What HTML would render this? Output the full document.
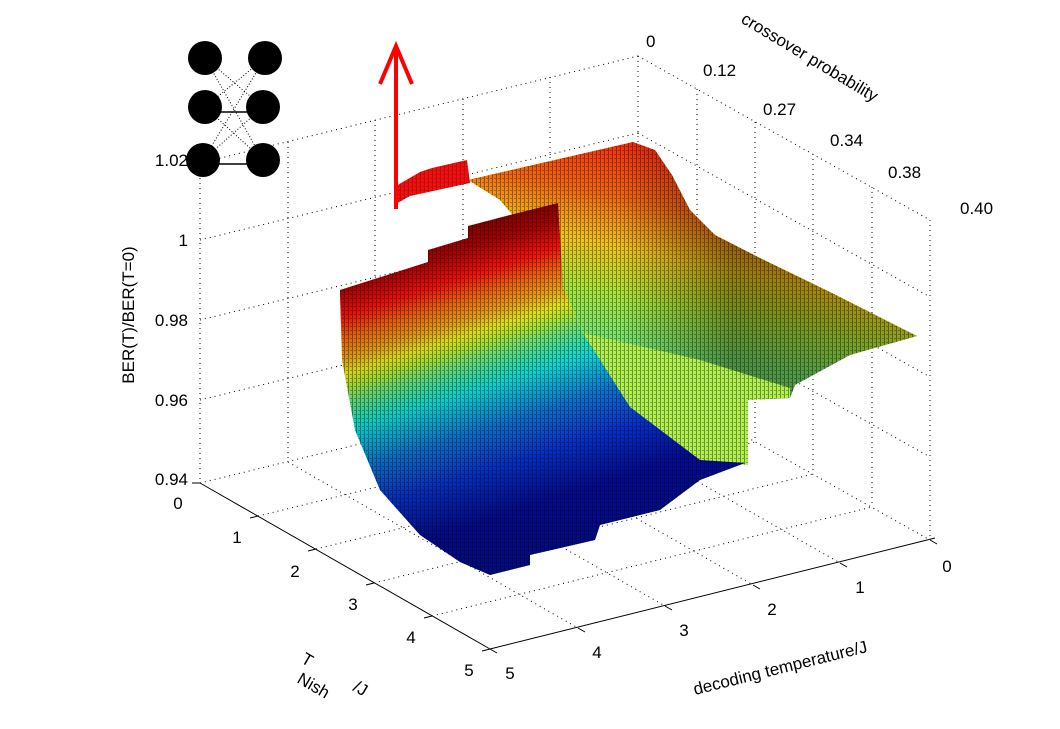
<!DOCTYPE html>
<html><head><meta charset="utf-8"><style>
html,body{margin:0;padding:0;background:#fff}
svg{display:block}
text{font-family:"Liberation Sans",sans-serif;font-size:17px;fill:#000}
</style></head><body>
<svg width="1060" height="729" viewBox="0 0 1060 729" xmlns="http://www.w3.org/2000/svg">
<defs>
<linearGradient id="front" gradientUnits="userSpaceOnUse" x1="330" y1="240" x2="426" y2="540">
<stop offset="0.08" stop-color="#800000"/>
<stop offset="0.16" stop-color="#b00000"/>
<stop offset="0.24" stop-color="#ff1000"/>
<stop offset="0.31" stop-color="#ff7000"/>
<stop offset="0.37" stop-color="#ffb000"/>
<stop offset="0.42" stop-color="#ffff00"/>
<stop offset="0.5" stop-color="#80ff80"/>
<stop offset="0.6" stop-color="#00ffff"/>
<stop offset="0.72" stop-color="#0090ff"/>
<stop offset="0.85" stop-color="#0040ff"/>
<stop offset="1" stop-color="#0010c0"/>
</linearGradient>
<linearGradient id="top" gradientUnits="userSpaceOnUse" x1="630" y1="140" x2="590" y2="330">
<stop offset="0" stop-color="#ff3000"/>
<stop offset="0.3" stop-color="#ff7000"/>
<stop offset="0.55" stop-color="#ffd000"/>
<stop offset="0.8" stop-color="#b0f040"/>
<stop offset="1" stop-color="#80f070"/>
</linearGradient>
<linearGradient id="topdark" gradientUnits="userSpaceOnUse" x1="620" y1="0" x2="900" y2="0">
<stop offset="0" stop-color="#000" stop-opacity="0.05"/>
<stop offset="0.4" stop-color="#000" stop-opacity="0.4"/>
<stop offset="1" stop-color="#000" stop-opacity="0.3"/>
</linearGradient>
<linearGradient id="dark" gradientUnits="userSpaceOnUse" x1="0" y1="250" x2="0" y2="580">
<stop offset="0" stop-color="#000" stop-opacity="0.05"/>
<stop offset="1" stop-color="#000" stop-opacity="0.35"/>
</linearGradient>
<pattern id="hatch" width="4" height="4" patternUnits="userSpaceOnUse">
<rect x="0" y="0" width="1" height="4" fill="#000" opacity="0.4"/>
<rect x="2" y="2" width="2" height="1" fill="#000" opacity="0.3"/>
</pattern>
</defs>

<g stroke="#000" stroke-width="1" stroke-dasharray="1 4" fill="none">
<line x1="200" y1="163" x2="638" y2="56"/>
<line x1="200" y1="240" x2="638" y2="133"/>
<line x1="200" y1="320" x2="638" y2="213"/>
<line x1="200" y1="400" x2="638" y2="293"/>
<line x1="200" y1="483" x2="638" y2="376"/>
<line x1="200" y1="163" x2="200" y2="483"/>
<line x1="288" y1="142" x2="288" y2="462"/>
<line x1="375" y1="120" x2="375" y2="440"/>
<line x1="463" y1="99" x2="463" y2="419"/>
<line x1="550" y1="77" x2="550" y2="397"/>
<line x1="638" y1="56" x2="638" y2="376"/>
<line x1="638" y1="56" x2="930" y2="220"/>
<line x1="638" y1="133" x2="930" y2="297"/>
<line x1="638" y1="213" x2="930" y2="377"/>
<line x1="638" y1="293" x2="930" y2="457"/>
<line x1="638" y1="376" x2="930" y2="540"/>
<line x1="697" y1="89" x2="697" y2="409"/>
<line x1="755" y1="122" x2="755" y2="442"/>
<line x1="813" y1="154" x2="813" y2="474"/>
<line x1="872" y1="187" x2="872" y2="507"/>
<line x1="930" y1="220" x2="930" y2="540"/>
<line x1="288" y1="462" x2="578" y2="628"/>
<line x1="375" y1="440" x2="665" y2="606"/>
<line x1="463" y1="419" x2="753" y2="585"/>
<line x1="550" y1="397" x2="840" y2="563"/>
<line x1="258" y1="516" x2="697" y2="409"/>
<line x1="316" y1="549" x2="755" y2="442"/>
<line x1="374" y1="583" x2="813" y2="474"/>
<line x1="432" y1="616" x2="872" y2="507"/>
</g>

<g>
<polygon points="468,180 633,142 655,150 672,175 690,210 715,235 760,258 830,292 917,336 850,355 795,385 790,398 745,400 600,385 583,333 563,287 556,216 515,218 500,200" fill="url(#top)"/>
<polygon points="468,180 633,142 655,150 672,175 690,210 715,235 760,258 830,292 917,336 850,355 795,385 790,398 745,400 600,385 583,333 563,287 556,216 515,218 500,200" fill="url(#topdark)"/>
<polygon points="468,180 633,142 655,150 672,175 690,210 715,235 760,258 830,292 917,336 850,355 795,385 790,398 745,400 600,385 583,333 563,287 556,216 515,218 500,200" fill="url(#hatch)"/>
</g>
<polygon points="583,333 700,360 790,388 790,398 748,400 748,465 700,460 630,407" fill="#b0f050"/>
<polygon points="583,333 700,360 790,388 790,398 748,400 748,465 700,460 630,407" fill="url(#hatch)"/>
<polygon points="396,186 420,172 432,168 467,160 470,183 410,196 394,205" fill="#f01010"/>
<polygon points="396,186 420,172 432,168 467,160 470,183 410,196 394,205" fill="url(#hatch)" opacity="0.6"/>
<polygon points="340,290 428,262 428,250 468,238 468,226 510,215 558,203 563,287 583,333 630,407 700,460 745,463 700,480 660,510 600,525 595,540 530,555 530,565 490,575 460,562 420,535 380,490 355,430 342,360" fill="url(#front)"/>
<polygon points="340,290 428,262 428,250 468,238 468,226 510,215 558,203 563,287 583,333 630,407 700,460 745,463 700,480 660,510 600,525 595,540 530,555 530,565 490,575 460,562 420,535 380,490 355,430 342,360" fill="url(#dark)"/>
<polygon points="340,290 428,262 428,250 468,238 468,226 510,215 558,203 563,287 583,333 630,407 700,460 745,463 700,480 660,510 600,525 595,540 530,555 530,565 490,575 460,562 420,535 380,490 355,430 342,360" fill="url(#hatch)"/>

<g stroke="#000" stroke-width="1">
<line x1="200" y1="483" x2="490" y2="649"/>
<line x1="490" y1="649" x2="935" y2="538"/>
<line x1="200" y1="483" x2="192" y2="483"/>
<line x1="258" y1="516" x2="250" y2="518"/>
<line x1="316" y1="549" x2="308" y2="551"/>
<line x1="374" y1="583" x2="366" y2="585"/>
<line x1="432" y1="616" x2="424" y2="618"/>
<line x1="490" y1="649" x2="482" y2="651"/>
<line x1="490" y1="649" x2="497" y2="653"/>
<line x1="578" y1="628" x2="585" y2="632"/>
<line x1="665" y1="606" x2="672" y2="610"/>
<line x1="753" y1="585" x2="760" y2="589"/>
<line x1="840" y1="563" x2="847" y2="567"/>
<line x1="930" y1="540" x2="937" y2="544"/>
</g>

<g stroke="#000" stroke-width="1" stroke-dasharray="1 2">
<line x1="205" y1="58" x2="263" y2="107"/><line x1="205" y1="58" x2="263" y2="160"/>
<line x1="265" y1="58" x2="205" y2="107"/><line x1="265" y1="58" x2="203" y2="160"/>
<line x1="205" y1="107" x2="263" y2="160"/><line x1="263" y1="107" x2="203" y2="160"/>
</g>
<g stroke="#000" stroke-width="1.5"><line x1="205" y1="112" x2="263" y2="112"/><line x1="203" y1="164" x2="263" y2="164"/></g>
<g fill="#000">
<circle cx="205" cy="58" r="17"/><circle cx="265" cy="58" r="17"/>
<circle cx="205" cy="107" r="17"/><circle cx="263" cy="107" r="17"/>
<circle cx="203" cy="160" r="17"/><circle cx="263" cy="160" r="17"/>
</g>

<g stroke="#ff0000" stroke-width="4" fill="none">
<line x1="396" y1="209" x2="396" y2="48"/>
<polyline points="380,84 396,46 412,84"/>
</g>

<g text-anchor="end">
<text x="188" y="166">1.02</text>
<text x="188" y="246">1</text>
<text x="188" y="326">0.98</text>
<text x="188" y="406">0.96</text>
<text x="188" y="485">0.94</text>
</g>
<text transform="translate(134,315) rotate(-90)" text-anchor="middle">BER(T)/BER(T=0)</text>
<g text-anchor="middle">
<text x="178" y="509">0</text><text x="237" y="543">1</text><text x="295" y="577">2</text>
<text x="353" y="610">3</text><text x="411" y="643">4</text><text x="469" y="676">5</text>
<text x="510" y="679">5</text><text x="597" y="658">4</text><text x="684" y="636">3</text>
<text x="772" y="615">2</text><text x="860" y="593">1</text><text x="947" y="572">0</text>
</g>
<text transform="translate(300,662) rotate(30)">T</text>
<text transform="translate(296,682) rotate(30)">Nish</text>
<text transform="translate(352,690) rotate(30)">/J</text>
<text transform="translate(695,695) rotate(-14)">decoding temperature/J</text>
<text transform="translate(740,22) rotate(31)">crossover probability</text>
<text x="646" y="47">0</text>
<text x="703" y="76">0.12</text>
<text x="763" y="115">0.27</text>
<text x="830" y="146">0.34</text>
<text x="888" y="178">0.38</text>
<text x="960" y="214">0.40</text>
</svg>
</body></html>
